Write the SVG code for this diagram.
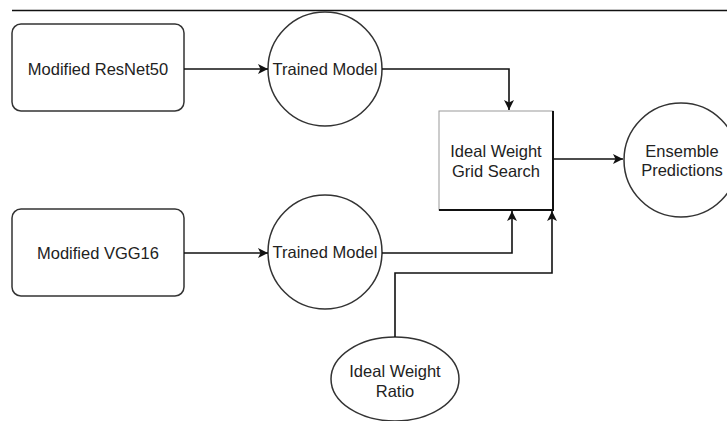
<svg xmlns="http://www.w3.org/2000/svg" width="727" height="421" viewBox="0 0 727 421">
<defs>
<style>
.shape{fill:#fff;stroke:#333;stroke-width:1.5}
.lbl{font-family:"Liberation Sans",Arial,Helvetica,sans-serif;font-size:16.5px;fill:#222;text-anchor:middle}
.conn{fill:none;stroke:#111;stroke-width:1.6}
</style>
<marker id="arr" viewBox="0 0 10 10" refX="10" refY="5" markerWidth="10" markerHeight="10" markerUnits="userSpaceOnUse" orient="auto">
<path d="M0,0 L10,5 L0,10 L2.5,5 Z" fill="#111"/>
</marker>
</defs>
<rect width="727" height="421" fill="#fff"/>
<line x1="12" y1="10.5" x2="727" y2="10.5" stroke="#111" stroke-width="1.5"/>
<g id="resnet">
<rect class="shape" x="12" y="24" width="172" height="87" rx="9"/>
<text class="lbl" x="98" y="75">Modified ResNet50</text>
</g>
<g id="trained1">
<circle class="shape" cx="325" cy="69" r="57"/>
<text class="lbl" x="325" y="75">Trained Model</text>
</g>
<g id="vgg">
<rect class="shape" x="12" y="209" width="172" height="87" rx="9"/>
<text class="lbl" x="98" y="259">Modified VGG16</text>
</g>
<g id="trained2">
<circle class="shape" cx="325" cy="252" r="57"/>
<text class="lbl" x="325" y="258">Trained Model</text>
</g>
<g id="gridsearch">
<rect x="439" y="111" width="114" height="99" fill="#fff" stroke="#999" stroke-width="1"/>
<path d="M553,111 V210 H439" fill="none" stroke="#111" stroke-width="2"/>
<text class="lbl" x="496" y="157">Ideal Weight</text>
<text class="lbl" x="496" y="177">Grid Search</text>
</g>
<g id="ensemble">
<circle class="shape" cx="681" cy="160" r="57"/>
<text class="lbl" x="682" y="157">Ensemble</text>
<text class="lbl" x="682" y="176">Predictions</text>
</g>
<g id="ratio">
<ellipse class="shape" cx="395" cy="379" rx="64" ry="42"/>
<text class="lbl" x="395" y="377">Ideal Weight</text>
<text class="lbl" x="395" y="397">Ratio</text>
</g>
<g id="connectors">
<path class="conn" d="M184,69 H268" marker-end="url(#arr)"/>
<path class="conn" d="M184,253 H268" marker-end="url(#arr)"/>
<path class="conn" d="M382,69 H509 V110" marker-end="url(#arr)"/>
<path class="conn" d="M382,253 H512 V211" marker-end="url(#arr)"/>
<path class="conn" d="M395,337 V273 H552 V211" marker-end="url(#arr)"/>
<path class="conn" d="M553,159 H623" marker-end="url(#arr)"/>
</g>
</svg>
